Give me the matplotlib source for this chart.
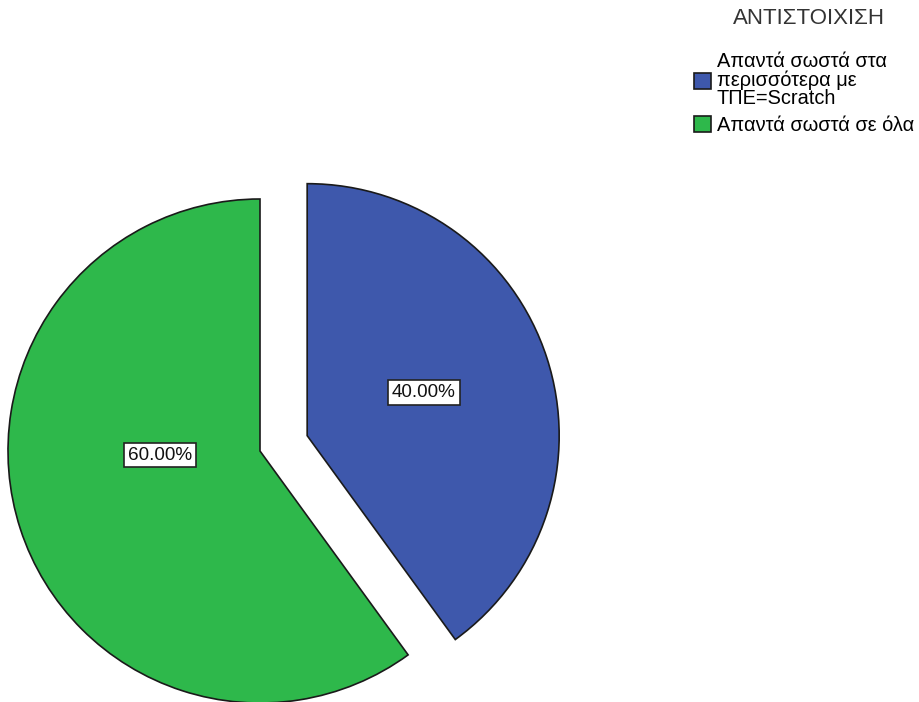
import numpy as np
import matplotlib.pyplot as plt

# answer categories and their shares (%)
labels = ["Απαντά σωστά στα\nπερισσότερα με\nΤΠΕ=Scratch", "Απαντά σωστά σε όλα"]
shares = [40.0, 60.0]
colors = ["#3e58ac", "#2eb84b"]
legend_title = "ΑΝΤΙΣΤΟΙΧΙΣΗ"

plt.rcParams["font.family"] = ["Liberation Sans", "DejaVu Sans"]

fig = plt.figure(figsize=(9.2, 7.02), dpi=100)
ax = fig.add_axes([0, 0, 1, 1])

center = (260, 251)
radius = 252
wedges, _, pcts = ax.pie(
    shares, colors=colors, startangle=90, counterclock=False,
    explode=[49.6, 0], center=center, radius=radius,
    autopct="%.2f%%", pctdistance=0.5,
    wedgeprops=dict(edgecolor="#1a1a1a", linewidth=1.2),
    textprops=dict(fontsize=13.6, color="#111111"),
)

# label placement inside each slice: (fraction of radius, angle in degrees)
label_spots = [(0.494, 20.2), (0.397, 182.3)]
for w, t, (d, a) in zip(wedges, pcts, label_spots):
    cx, cy = w.center
    t.set_position((cx + d * radius * np.cos(np.radians(a)),
                    cy + d * radius * np.sin(np.radians(a))))
    t.set_bbox(dict(boxstyle="square,pad=0.2", facecolor="white",
                    edgecolor="#222222", linewidth=1.2))

ax.set_xlim(0, 920)
ax.set_ylim(0, 702)
ax.set_aspect("equal")
ax.axis("off")

fig.text(809 / 920, 1 - 18 / 702, legend_title, ha="center", va="center",
         fontsize=16, color="#333333")

leg = fig.legend(
    wedges, labels, loc="upper left",
    bbox_to_anchor=(694 / 920, 1 - 52 / 702), frameon=False,
    fontsize=14.4, borderpad=0, borderaxespad=0,
    handlelength=0.85, handleheight=0.85, handletextpad=0.3,
    labelspacing=0.4,
)
leg.get_texts()[0].set_linespacing(0.95)
for h in leg.legend_handles:
    h.set_edgecolor("#1a1a1a")
    h.set_linewidth(1.2)

fig.savefig("out.png", dpi=100)
